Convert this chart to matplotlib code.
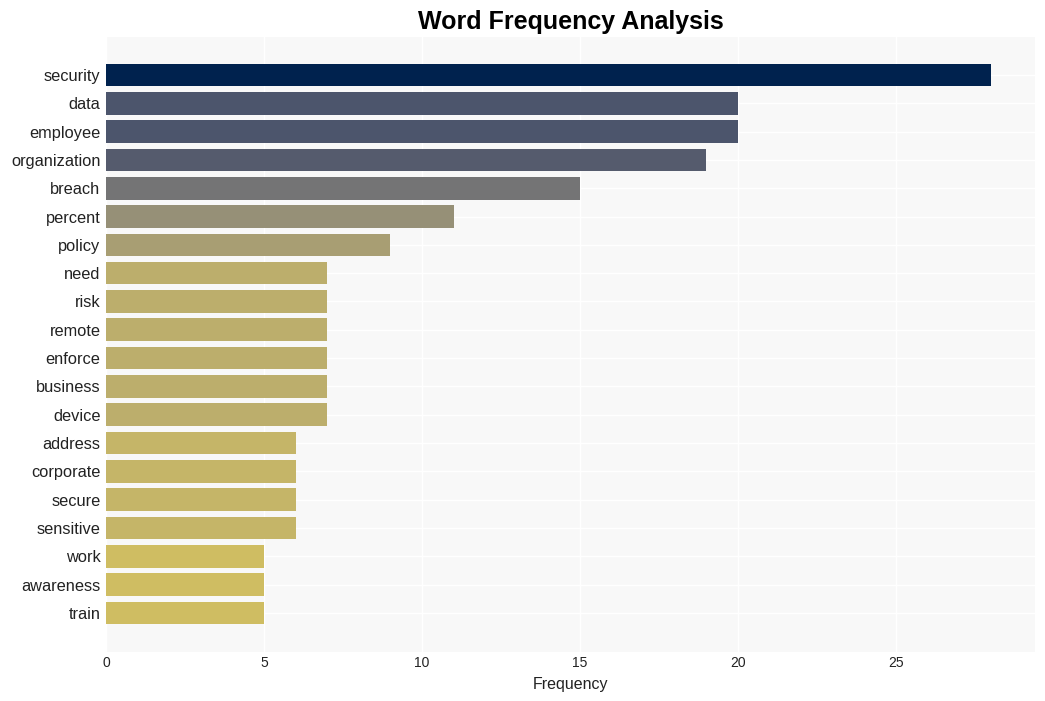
import matplotlib
matplotlib.use("Agg")
import matplotlib.pyplot as plt
import numpy as np

words = ["security", "data", "employee", "organization", "breach", "percent", "policy",
         "need", "risk", "remote", "enforce", "business", "device", "address",
         "corporate", "secure", "sensitive", "work", "awareness", "train"]
counts = [28, 20, 20, 19, 15, 11, 9, 7, 7, 7, 7, 7, 7, 6, 6, 6, 6, 5, 5, 5]

plt.rcParams['font.family'] = ['Liberation Sans', 'DejaVu Sans']

fig = plt.figure(figsize=(10.45, 7.01), dpi=100)
ax = fig.add_axes([0.1014, 0.0699, 0.8890, 0.8773])
ax.set_facecolor("#f8f8f8")

vals = np.array(counts)
colors = plt.cm.cividis(1 - vals / vals.max())
y = np.arange(len(words))
ax.barh(y, vals, height=0.8, color=colors, zorder=2)

ax.set_yticks(y)
ax.set_yticklabels(words, fontsize=11.8, color="#222222")
ax.set_ylim(len(words) - 1 + 1.38, -1.34)
ax.set_xlim(0, vals.max() * 1.05)
ax.set_xticks([0, 5, 10, 15, 20, 25])
ax.tick_params(axis="x", labelsize=10, colors="#222222", length=0, pad=3)
ax.tick_params(axis="y", length=0, pad=4)

ax.grid(True, color="white", linewidth=1, zorder=0)
ax.set_axisbelow(True)
for s in ax.spines.values():
    s.set_visible(False)

ax.set_xlabel("Frequency", fontsize=11.5, color="#222222", labelpad=5)
ax.set_title("Word Frequency Analysis", fontsize=18, fontweight="bold", pad=6)

fig.savefig("out.png", dpi=100)
